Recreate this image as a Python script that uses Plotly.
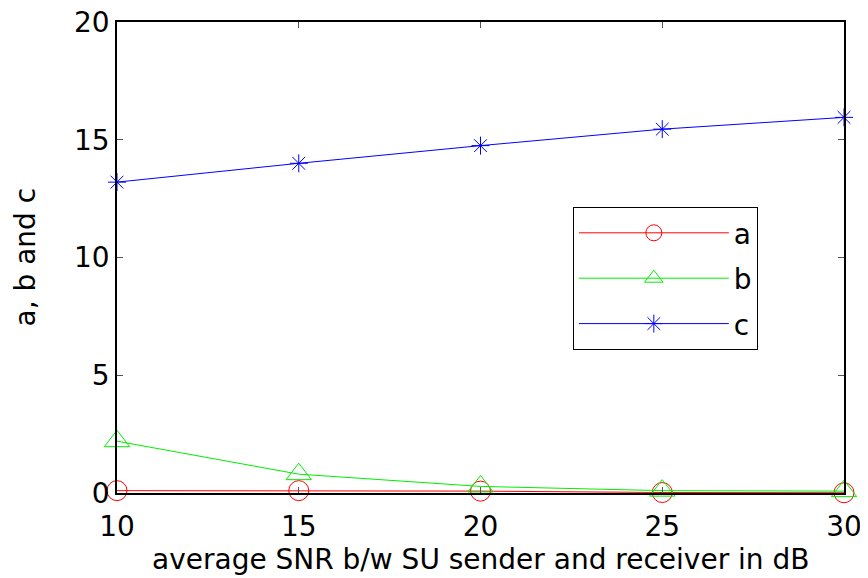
import plotly.graph_objects as go

snr = [10, 15, 20, 25, 30]
a_vals = [0.1, 0.1, 0.08, 0.02, 0.01]
b_vals = [2.2, 0.8, 0.28, 0.1, 0.08]
c_vals = [13.2, 14.0, 14.75, 15.45, 15.95]
x_ticks = [10, 15, 20, 25, 30]
y_ticks = [0, 5, 10, 15, 20]
x_title = "average SNR b/w SU sender and receiver in dB"
y_title = "a, b and c"

FONT = "DejaVu Sans, Arial, sans-serif"

fig = go.Figure()
fig.add_trace(go.Scatter(x=snr, y=a_vals, name="a", mode="lines+markers",
                         line=dict(color="#ff0000", width=1),
                         marker=dict(symbol="circle-open", size=20, color="#ff0000", line=dict(width=1)),
                         legendgroup="a", cliponaxis=False))
fig.add_trace(go.Scatter(x=snr, y=b_vals, name="b", mode="lines+markers",
                         line=dict(color="#00ee00", width=1),
                         marker=dict(symbol="triangle-up-open", size=22, color="#00ee00", line=dict(width=1)),
                         legendgroup="b", cliponaxis=False))
fig.add_trace(go.Scatter(x=snr, y=c_vals, name="c", mode="lines+markers",
                         line=dict(color="#0000ff", width=1),
                         marker=dict(symbol="asterisk-open", size=15, color="#0000ff", line=dict(width=1)),
                         legendgroup="c", cliponaxis=False))

axis_common = dict(showline=True, linecolor="black", linewidth=1.5, mirror="ticks",
                   ticks="inside", ticklen=6, tickcolor="#555", showgrid=False, zeroline=False,
                   automargin=False, ticklabeloverflow="allow",
                   tickfont=dict(family=FONT, size=28, color="black"))

# page body has an 8px margin, so the figure is 860x570 placed at (8, 8)
fig.update_layout(
    width=860, height=570,
    margin=dict(l=109, r=24, t=14, b=85),
    paper_bgcolor="white", plot_bgcolor="white",
    font=dict(family=FONT, size=28, color="black"),
    xaxis=dict(range=[10, 30], tickvals=x_ticks, ticktext=[str(v) for v in x_ticks],
               ticklabelstandoff=8, **axis_common),
    yaxis=dict(range=[0, 20], tickvals=y_ticks, ticktext=[str(v) for v in y_ticks],
               ticklabelstandoff=0, **axis_common),
    legend=dict(x=0.627, y=0.607, xanchor="left", yanchor="top",
                bordercolor="black", borderwidth=1, bgcolor="white",
                font=dict(family=FONT, size=28), traceorder="grouped", tracegroupgap=6,
                itemwidth=150),
    showlegend=True,
    annotations=[
        dict(text=x_title, xref="paper", yref="paper", x=0.5, y=0, xanchor="center",
             yanchor="middle", yshift=-66, showarrow=False, font=dict(family=FONT, size=28)),
        dict(text=y_title, xref="paper", yref="paper", x=0, y=0.5, xanchor="center",
             yanchor="middle", xshift=-92, textangle=-90, showarrow=False,
             font=dict(family=FONT, size=28)),
    ],
)

fig.write_html("out.html")
